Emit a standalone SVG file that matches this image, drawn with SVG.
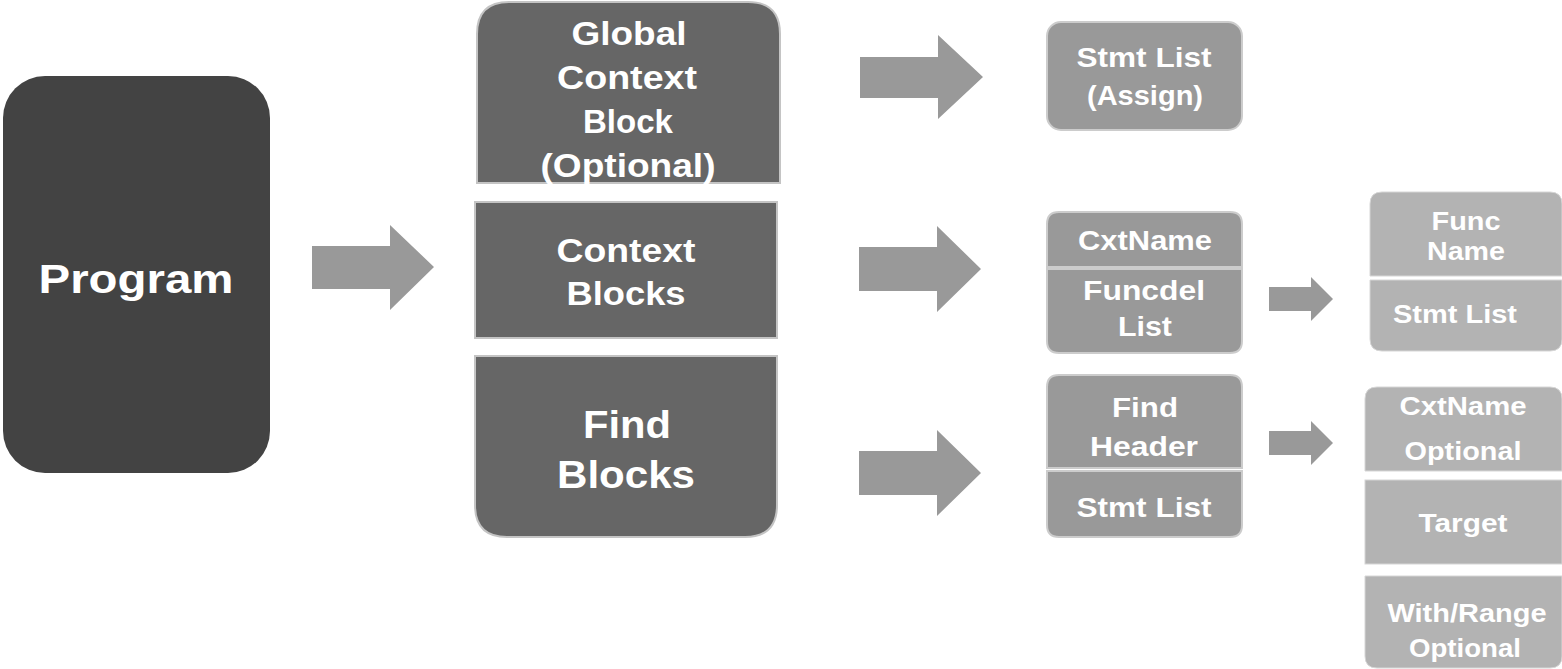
<svg xmlns="http://www.w3.org/2000/svg" width="1562" height="669" viewBox="0 0 1562 669">
<style>
text{font-family:"Liberation Sans",Arial,sans-serif;font-weight:bold;fill:#ffffff;text-anchor:middle}
.dark{fill:#666666;stroke:#c4c4c4;stroke-width:2}
.mid{fill:#999999;stroke:#cccccc;stroke-width:2}
.light{fill:#b3b3b3;stroke:#d6d6d6;stroke-width:1}
.arrow{fill:#999999}
</style>
<rect width="1562" height="669" fill="#ffffff"/>
<g id="program">
<rect x="3" y="76" width="267" height="397" rx="42" fill="#434343"/>
<text x="136" y="293" font-size="41" textLength="195" lengthAdjust="spacingAndGlyphs">Program</text>
</g>
<g id="global-context">
<path class="dark" d="M477 183 V34 Q477 2 509 2 H748 Q780 2 780 34 V183 Z"/>
<text x="629" y="45" font-size="34" textLength="115" lengthAdjust="spacingAndGlyphs">Global</text>
<text x="627" y="89" font-size="34" textLength="140" lengthAdjust="spacingAndGlyphs">Context</text>
<text x="628" y="133" font-size="34" textLength="90" lengthAdjust="spacingAndGlyphs">Block</text>
<text x="628" y="177" font-size="34" textLength="175" lengthAdjust="spacingAndGlyphs">(Optional)</text>
</g>
<g id="context-blocks">
<rect class="dark" x="475" y="202" width="302" height="136"/>
<text x="626" y="262" font-size="34" textLength="139" lengthAdjust="spacingAndGlyphs">Context</text>
<text x="626" y="305" font-size="34" textLength="119" lengthAdjust="spacingAndGlyphs">Blocks</text>
</g>
<g id="find-blocks">
<path class="dark" d="M475 356 H777 V505 Q777 537 745 537 H507 Q475 537 475 505 Z"/>
<text x="627" y="438" font-size="38" textLength="88" lengthAdjust="spacingAndGlyphs">Find</text>
<text x="626" y="488" font-size="38" textLength="138" lengthAdjust="spacingAndGlyphs">Blocks</text>
</g>
<g id="stmt-assign">
<rect class="mid" x="1047" y="22" width="195" height="108" rx="14"/>
<text x="1144" y="67" font-size="28" textLength="135" lengthAdjust="spacingAndGlyphs">Stmt List</text>
<text x="1145" y="105" font-size="28" textLength="116" lengthAdjust="spacingAndGlyphs">(Assign)</text>
</g>
<g id="cxt-funcdel">
<path class="mid" d="M1047 267 V224 Q1047 212 1059 212 H1230 Q1242 212 1242 224 V267 Z"/>
<path class="mid" d="M1047 269 H1242 V341 Q1242 353 1230 353 H1059 Q1047 353 1047 341 Z"/>
<text x="1145" y="250" font-size="27" textLength="134" lengthAdjust="spacingAndGlyphs">CxtName</text>
<text x="1144" y="300" font-size="27" textLength="122" lengthAdjust="spacingAndGlyphs">Funcdel</text>
<text x="1145" y="336" font-size="27" textLength="54" lengthAdjust="spacingAndGlyphs">List</text>
</g>
<g id="find-header">
<path class="mid" d="M1047 468 V387 Q1047 375 1059 375 H1230 Q1242 375 1242 387 V468 Z"/>
<path class="mid" d="M1047 471 H1242 V525 Q1242 537 1230 537 H1059 Q1047 537 1047 525 Z"/>
<text x="1145" y="417" font-size="27" textLength="66" lengthAdjust="spacingAndGlyphs">Find</text>
<text x="1144" y="456" font-size="27" textLength="108" lengthAdjust="spacingAndGlyphs">Header</text>
<text x="1144" y="517" font-size="27" textLength="135" lengthAdjust="spacingAndGlyphs">Stmt List</text>
</g>
<g id="func-stmt">
<path class="light" d="M1370 276 V204 Q1370 192 1382 192 H1550 Q1562 192 1562 204 V276 Z"/>
<path class="light" d="M1370 280 H1562 V339 Q1562 351 1550 351 H1382 Q1370 351 1370 339 Z"/>
<text x="1466" y="230" font-size="26" textLength="69" lengthAdjust="spacingAndGlyphs">Func</text>
<text x="1466" y="260" font-size="26" textLength="78" lengthAdjust="spacingAndGlyphs">Name</text>
<text x="1455" y="323" font-size="26" textLength="124" lengthAdjust="spacingAndGlyphs">Stmt List</text>
</g>
<g id="find-parts">
<path class="light" d="M1365 471 V399 Q1365 387 1377 387 H1550 Q1562 387 1562 399 V471 Z"/>
<rect class="light" x="1365" y="480" width="197" height="84"/>
<path class="light" d="M1365 576 H1562 V656 Q1562 668 1550 668 H1377 Q1365 668 1365 656 Z"/>
<text x="1463" y="415" font-size="26" textLength="127" lengthAdjust="spacingAndGlyphs">CxtName</text>
<text x="1463" y="460" font-size="26" textLength="117" lengthAdjust="spacingAndGlyphs">Optional</text>
<text x="1463" y="532" font-size="26" textLength="89" lengthAdjust="spacingAndGlyphs">Target</text>
<text x="1467" y="622" font-size="26" textLength="159" lengthAdjust="spacingAndGlyphs">With/Range</text>
<text x="1465" y="657" font-size="26" textLength="112" lengthAdjust="spacingAndGlyphs">Optional</text>
</g>
<g id="connectors">
<polygon class="arrow" points="312,246 390,246 390,225 434,267 390,310 390,289 312,289"/>
<polygon class="arrow" points="860,57 938,57 938,35 983,77 938,119 938,98 860,98"/>
<polygon class="arrow" points="859,247 937,247 937,226 981,269 937,312 937,291 859,291"/>
<polygon class="arrow" points="859,451 937,451 937,430 981,473 937,516 937,495 859,495"/>
<polygon class="arrow" points="1269,287 1311,287 1311,277 1333,299 1311,321 1311,311 1269,311"/>
<polygon class="arrow" points="1269,431 1311,431 1311,421 1333,443 1311,465 1311,455 1269,455"/>
</g>
</svg>
